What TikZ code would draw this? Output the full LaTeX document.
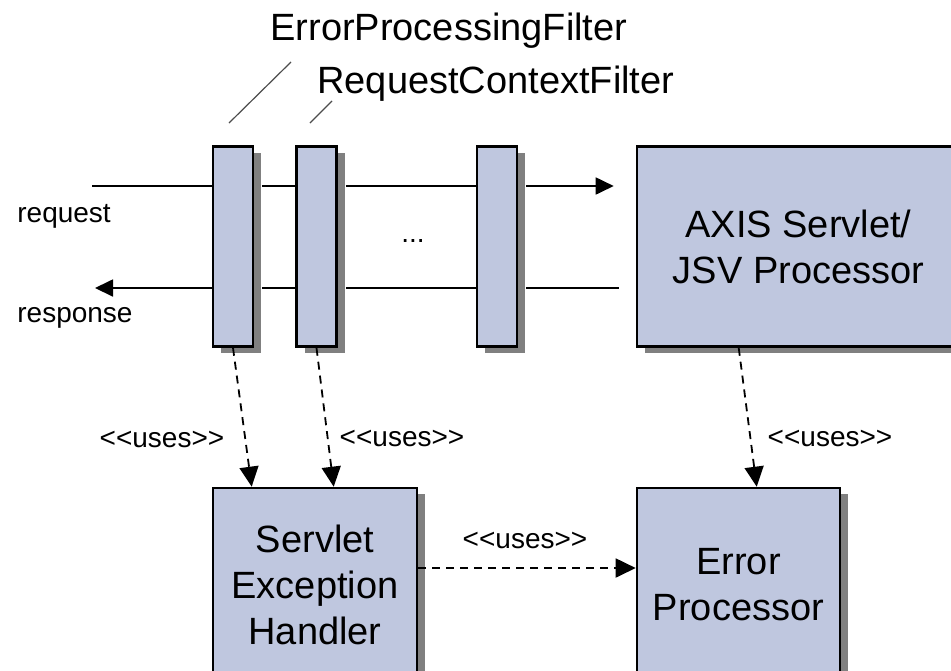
\documentclass[tikz,border=0pt]{standalone}
\usepackage{fontspec}
\setmainfont{Liberation Sans}
\newfontfamily\plainsans{Liberation Sans}
\usetikzlibrary{arrows.meta,shadows}
\definecolor{boxblue}{RGB}{191,199,223}
\tikzset{filterbox/.style={draw, line width=1.3pt, fill=boxblue,
        minimum width=20pt, minimum height=100pt, inner sep=0pt,
        drop shadow={shadow xshift=4pt, shadow yshift=-3pt, fill=black!50, opacity=1}},
    compbox/.style={filterbox, font=\fontsize{19}{23}\selectfont, align=center},
    flow/.style={line width=0.9pt},
    uses/.style={line width=0.9pt, dash pattern=on 4pt off 3pt,
        -{Triangle[length=10pt,width=9.5pt]}},
    stereo/.style={font=\plainsans\fontsize{14}{16}\selectfont, inner sep=0pt},
    title/.style={font=\fontsize{19}{22}\selectfont, inner sep=0pt, anchor=base west},
    }

\begin{document}
\begin{tikzpicture}[x=0.5pt,y=-0.5pt]
	\clip (0,0) rectangle (951,670);
	% filters and servlet
	\node[filterbox] (f1) at (233,246.5) {};
	\node[filterbox] (f2) at (316.5,246.5) {};
	\node[filterbox] (f3) at (497,246.5) {};
	\node[compbox, minimum width=161.5pt] (axis) at (798.5,246.5) {AXIS Servlet/\\JSV Processor};
	\node[stereo] (dots) at (413,241) {...};
	% helpers
	\node[compbox, minimum width=102pt, minimum height=97pt] (hdl) at (315,585) {Servlet\\Exception\\Handler};
	\node[compbox, minimum width=101.5pt, minimum height=97pt] (errp) at (738.5,585) {Error\\Processor};
	% request / response
	\coordinate (req) at (92,186);
	\coordinate (resp) at (95,288);
	\node[stereo, anchor=west] (reqlbl) at (17,216) {request};
	\node[stereo, anchor=west] (resplbl) at (17,318) {response};
	\draw[flow] (req) -- (req -| f1.west);
	\draw[flow] ([xshift=4pt]req -| f1.east) -- (req -| f2.west);
	\draw[flow] ([xshift=4pt]req -| f2.east) -- (req -| f3.west);
	\draw[flow, -{Triangle[length=9pt,width=8.5pt]}] ([xshift=4pt]req -| f3.east) -- ([xshift=-11pt]req -| axis.west);
	\draw[flow] ([xshift=-8.5pt]resp -| axis.west) -- ([xshift=4pt]resp -| f3.east);
	\draw[flow] (resp -| f3.west) -- ([xshift=4pt]resp -| f2.east);
	\draw[flow] (resp -| f2.west) -- ([xshift=4pt]resp -| f1.east);
	\draw[flow, -{Triangle[length=9pt,width=8.5pt]}] (resp -| f1.west) -- (resp);
	% uses
	\draw[uses] (f1.south) -- ([xshift=20pt]hdl.north west);
	\draw[uses] (f2.south) -- ([xshift=61pt]hdl.north west);
	\draw[uses] ([xshift=51.5pt]axis.south west) -- ([xshift=60.5pt]errp.north west);
	\draw[uses] ([yshift=8.5pt]hdl.east) -- ([yshift=8.5pt]hdl.east -| errp.west);
	\node[stereo] (u1) at (162,439) {<<uses>>};
	\node[stereo] (u2) at (402,438) {<<uses>>};
	\node[stereo] (u3) at (830,438) {<<uses>>};
	\node[stereo] (u4) at (525,540) {<<uses>>};
	% filter names
	\node[title] (epf) at (270,40) {ErrorProcessingFilter};
	\node[title] (rcf) at (317,93) {RequestContextFilter};
	\coordinate (l1a) at (229,123);
	\coordinate (l1b) at (291,62);
	\coordinate (l2a) at (310,123);
	\coordinate (l2b) at (332,101);
	\draw[black!70, line width=0.6pt] (l1a) -- (l1b);
	\draw[black!70, line width=0.6pt] (l2a) -- (l2b);
\end{tikzpicture}
\end{document}
